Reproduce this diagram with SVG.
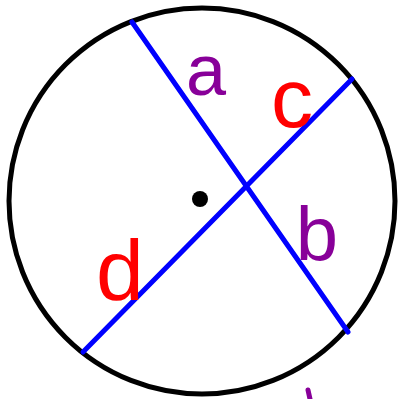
<svg xmlns="http://www.w3.org/2000/svg" width="399" height="399" viewBox="0 0 399 399">
  <style>
    .circle { fill: none; stroke: #000; stroke-width: 5; }
    .chord { stroke: #0000ff; stroke-width: 5; stroke-linecap: round; }
    .lbl { font-family: "Liberation Sans", "DejaVu Sans", sans-serif; text-anchor: middle; }
    .purple { fill: #880099; }
    .red { fill: #ff0000; }
  </style>
  <rect width="399" height="399" fill="#fff"/>
  <g id="circle">
    <circle class="circle" cx="202" cy="201" r="193"/>
    <circle cx="200" cy="199" r="8" fill="#000"/>
  </g>
  <g id="connectors">
    <line class="chord" x1="132" y1="22" x2="348" y2="332"/>
    <line class="chord" x1="352" y1="79" x2="83" y2="352"/>
  </g>
  <g id="labels">
    <text class="lbl purple" x="206" y="95" font-size="72">a</text>
    <text class="lbl red" x="292" y="127" font-size="84">c</text>
    <text class="lbl purple" x="317" y="260" font-size="76">b</text>
    <text class="lbl red" x="120" y="300" font-size="86">d</text>
  </g>
  <line x1="308" y1="390" x2="310" y2="399" stroke="#880099" stroke-width="5" stroke-linecap="round"/>
</svg>
